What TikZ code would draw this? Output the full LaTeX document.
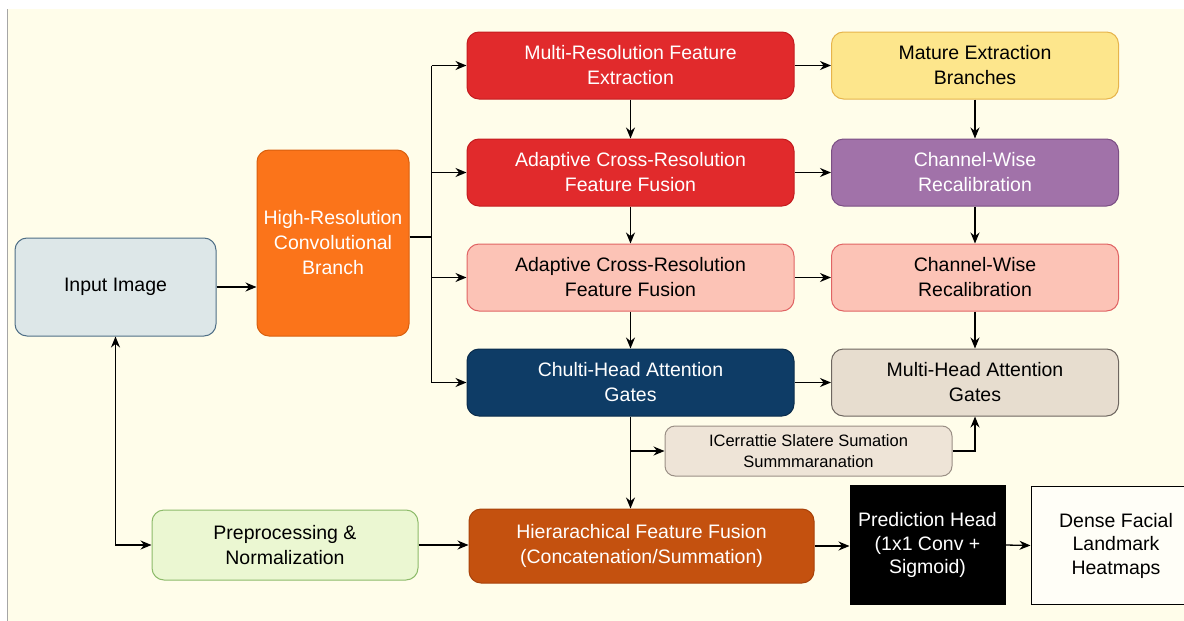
\documentclass[tikz,border=0pt]{standalone}
\usepackage{fontspec}
\setmainfont{Liberation Sans}
\usetikzlibrary{arrows.meta}
\definecolor{cream}{HTML}{FFFDEA}
\definecolor{redfill}{HTML}{E12A2C}
\definecolor{redline}{HTML}{C41C1F}
\definecolor{pinkfill}{HTML}{FCC3B6}
\definecolor{pinkline}{HTML}{E06464}
\definecolor{navyfill}{HTML}{0E3C66}
\definecolor{navyline}{HTML}{0A2C4C}
\definecolor{yellowfill}{HTML}{FDE68C}
\definecolor{yellowline}{HTML}{E6B44C}
\definecolor{purplefill}{HTML}{A172A9}
\definecolor{purpleline}{HTML}{7B4F84}
\definecolor{grayfill}{HTML}{E7DDCF}
\definecolor{grayline}{HTML}{6E6660}
\definecolor{smallfill}{HTML}{EEE4D7}
\definecolor{smallline}{HTML}{9A8F85}
\definecolor{hierfill}{HTML}{C4510F}
\definecolor{hierline}{HTML}{A8420A}
\definecolor{prepfill}{HTML}{EBF7D2}
\definecolor{prepline}{HTML}{8DBB6A}
\definecolor{inputfill}{HTML}{DDE7E8}
\definecolor{inputline}{HTML}{4F6F86}
\definecolor{orangefill}{HTML}{FB741A}
\definecolor{orangeline}{HTML}{D9600E}
\tikzset{
  box/.style={rectangle, rounded corners=12pt, line width=1pt, align=center,
    inner sep=0pt, font=\fontsize{19.5}{25}\selectfont},
  midbox/.style={box, minimum width=327pt, minimum height=67pt},
  rightbox/.style={box, minimum width=287pt, minimum height=67pt},
  line/.style={draw=black, line width=1.3pt},
  arr/.style={line, -{Stealth[length=11pt,width=9pt]}},
  darr/.style={line, {Stealth[length=11pt,width=9pt]}-{Stealth[length=11pt,width=9pt]}}
}
\begin{document}
\begin{tikzpicture}[x=1pt,y=-1pt]
\clip (0,0) rectangle (1184,621);
\fill[white] (0,0) rectangle (1184,621);
\fill[cream] (7,9) rectangle (1184,621);
\draw[gray!70, line width=1pt] (7,9) -- (7,621);

% nodes
\node[box, fill=inputfill, draw=inputline, minimum width=201pt, minimum height=98pt] (input) at (115.5,287) {Input Image};
\node[box, fill=orangefill, draw=orangeline, text=white, minimum width=152pt, minimum height=186pt] (hrb) at (333,243) {High-Resolution\\Convolutional\\Branch};

\node[midbox, fill=redfill, draw=redline, text=white] (mrfe) at (630.5,65.5) {Multi-Resolution Feature\\Extraction};
\node[midbox, fill=redfill, draw=redline, text=white] (acrf1) at (630.5,172.5) {Adaptive Cross-Resolution\\Feature Fusion};
\node[midbox, fill=pinkfill, draw=pinkline] (acrf2) at (630.5,277.5) {Adaptive Cross-Resolution\\Feature Fusion};
\node[midbox, fill=navyfill, draw=navyline, text=white] (chulti) at (630.5,382.5) {Chulti-Head Attention\\Gates};

\node[rightbox, fill=yellowfill, draw=yellowline] (mature) at (975,65.5) {Mature Extraction\\Branches};
\node[rightbox, fill=purplefill, draw=purpleline, text=white] (chan1) at (975,172.5) {Channel-Wise\\Recalibration};
\node[rightbox, fill=pinkfill, draw=pinkline] (chan2) at (975,277.5) {Channel-Wise\\Recalibration};
\node[rightbox, fill=grayfill, draw=grayline] (mha) at (975,382.5) {Multi-Head Attention\\Gates};

\node[box, fill=smallfill, draw=smallline, minimum width=287pt, minimum height=50pt, rounded corners=10pt, font=\fontsize{16.5}{21}\selectfont] (small) at (808.5,451) {ICerrattie Slatere Sumation\\Summmaranation};

\node[box, fill=prepfill, draw=prepline, minimum width=266pt, minimum height=70pt] (prep) at (285,545) {Preprocessing \&\\Normalization};
\node[box, fill=hierfill, draw=hierline, text=white, minimum width=345pt, minimum height=74pt] (hier) at (641.5,546) {Hierarachical Feature Fusion\\(Concatenation/Summation)};
\node[box, rounded corners=0pt, fill=black, draw=black, text=white, minimum width=155pt, minimum height=119pt, font=\fontsize{19.5}{23.5}\selectfont] (pred) at (927.5,545) {Prediction Head\\(1x1 Conv +\\Sigmoid)};
\node[box, rounded corners=0pt, fill=white!60!cream, draw=black, minimum width=170pt, minimum height=118pt, font=\fontsize{19.5}{23.5}\selectfont] (dense) at (1116,545.5) {Dense Facial\\Landmark\\Heatmaps};

% connectors
\coordinate (bus) at (431.5,0);
\draw[arr] (input.east) -- (input.east -| hrb.west);
\draw[line] ([yshift=6pt]hrb.east) -- ([yshift=6pt]hrb.east -| bus);
\draw[line] (mrfe.west -| bus) -- (chulti.west -| bus);
\foreach \n in {mrfe,acrf1,acrf2,chulti}
  \draw[arr] (\n.west -| bus) -- (\n.west);

\draw[arr] (mrfe.south) -- (acrf1.north);
\draw[arr] (acrf1.south) -- (acrf2.north);
\draw[arr] (acrf2.south) -- (chulti.north);
\draw[arr] (mature.south) -- (chan1.north);
\draw[arr] (chan1.south) -- (chan2.north);
\draw[arr] (chan2.south) -- (mha.north);

\draw[arr] (mrfe.east) -- (mature.west);
\draw[arr] (acrf1.east) -- (chan1.west);
\draw[arr] (acrf2.east) -- (chan2.west);
\draw[arr] (chulti.east) -- (mha.west);

\coordinate (j) at (chulti.south |- small.west);
\draw[arr] (chulti.south) -- (chulti.south |- hier.north);
\draw[arr] (j) -- (small.west);
\draw[arr] (small.east) -| (mha.south);

\draw[darr] (input.south) |- (prep.west);
\draw[arr] (prep.east) -- (prep.east -| hier.west);
\draw[arr] (hier.east) -- (hier.east -| pred.west);
\draw[arr] (pred.east) -- (dense.west);
\end{tikzpicture}
\end{document}
